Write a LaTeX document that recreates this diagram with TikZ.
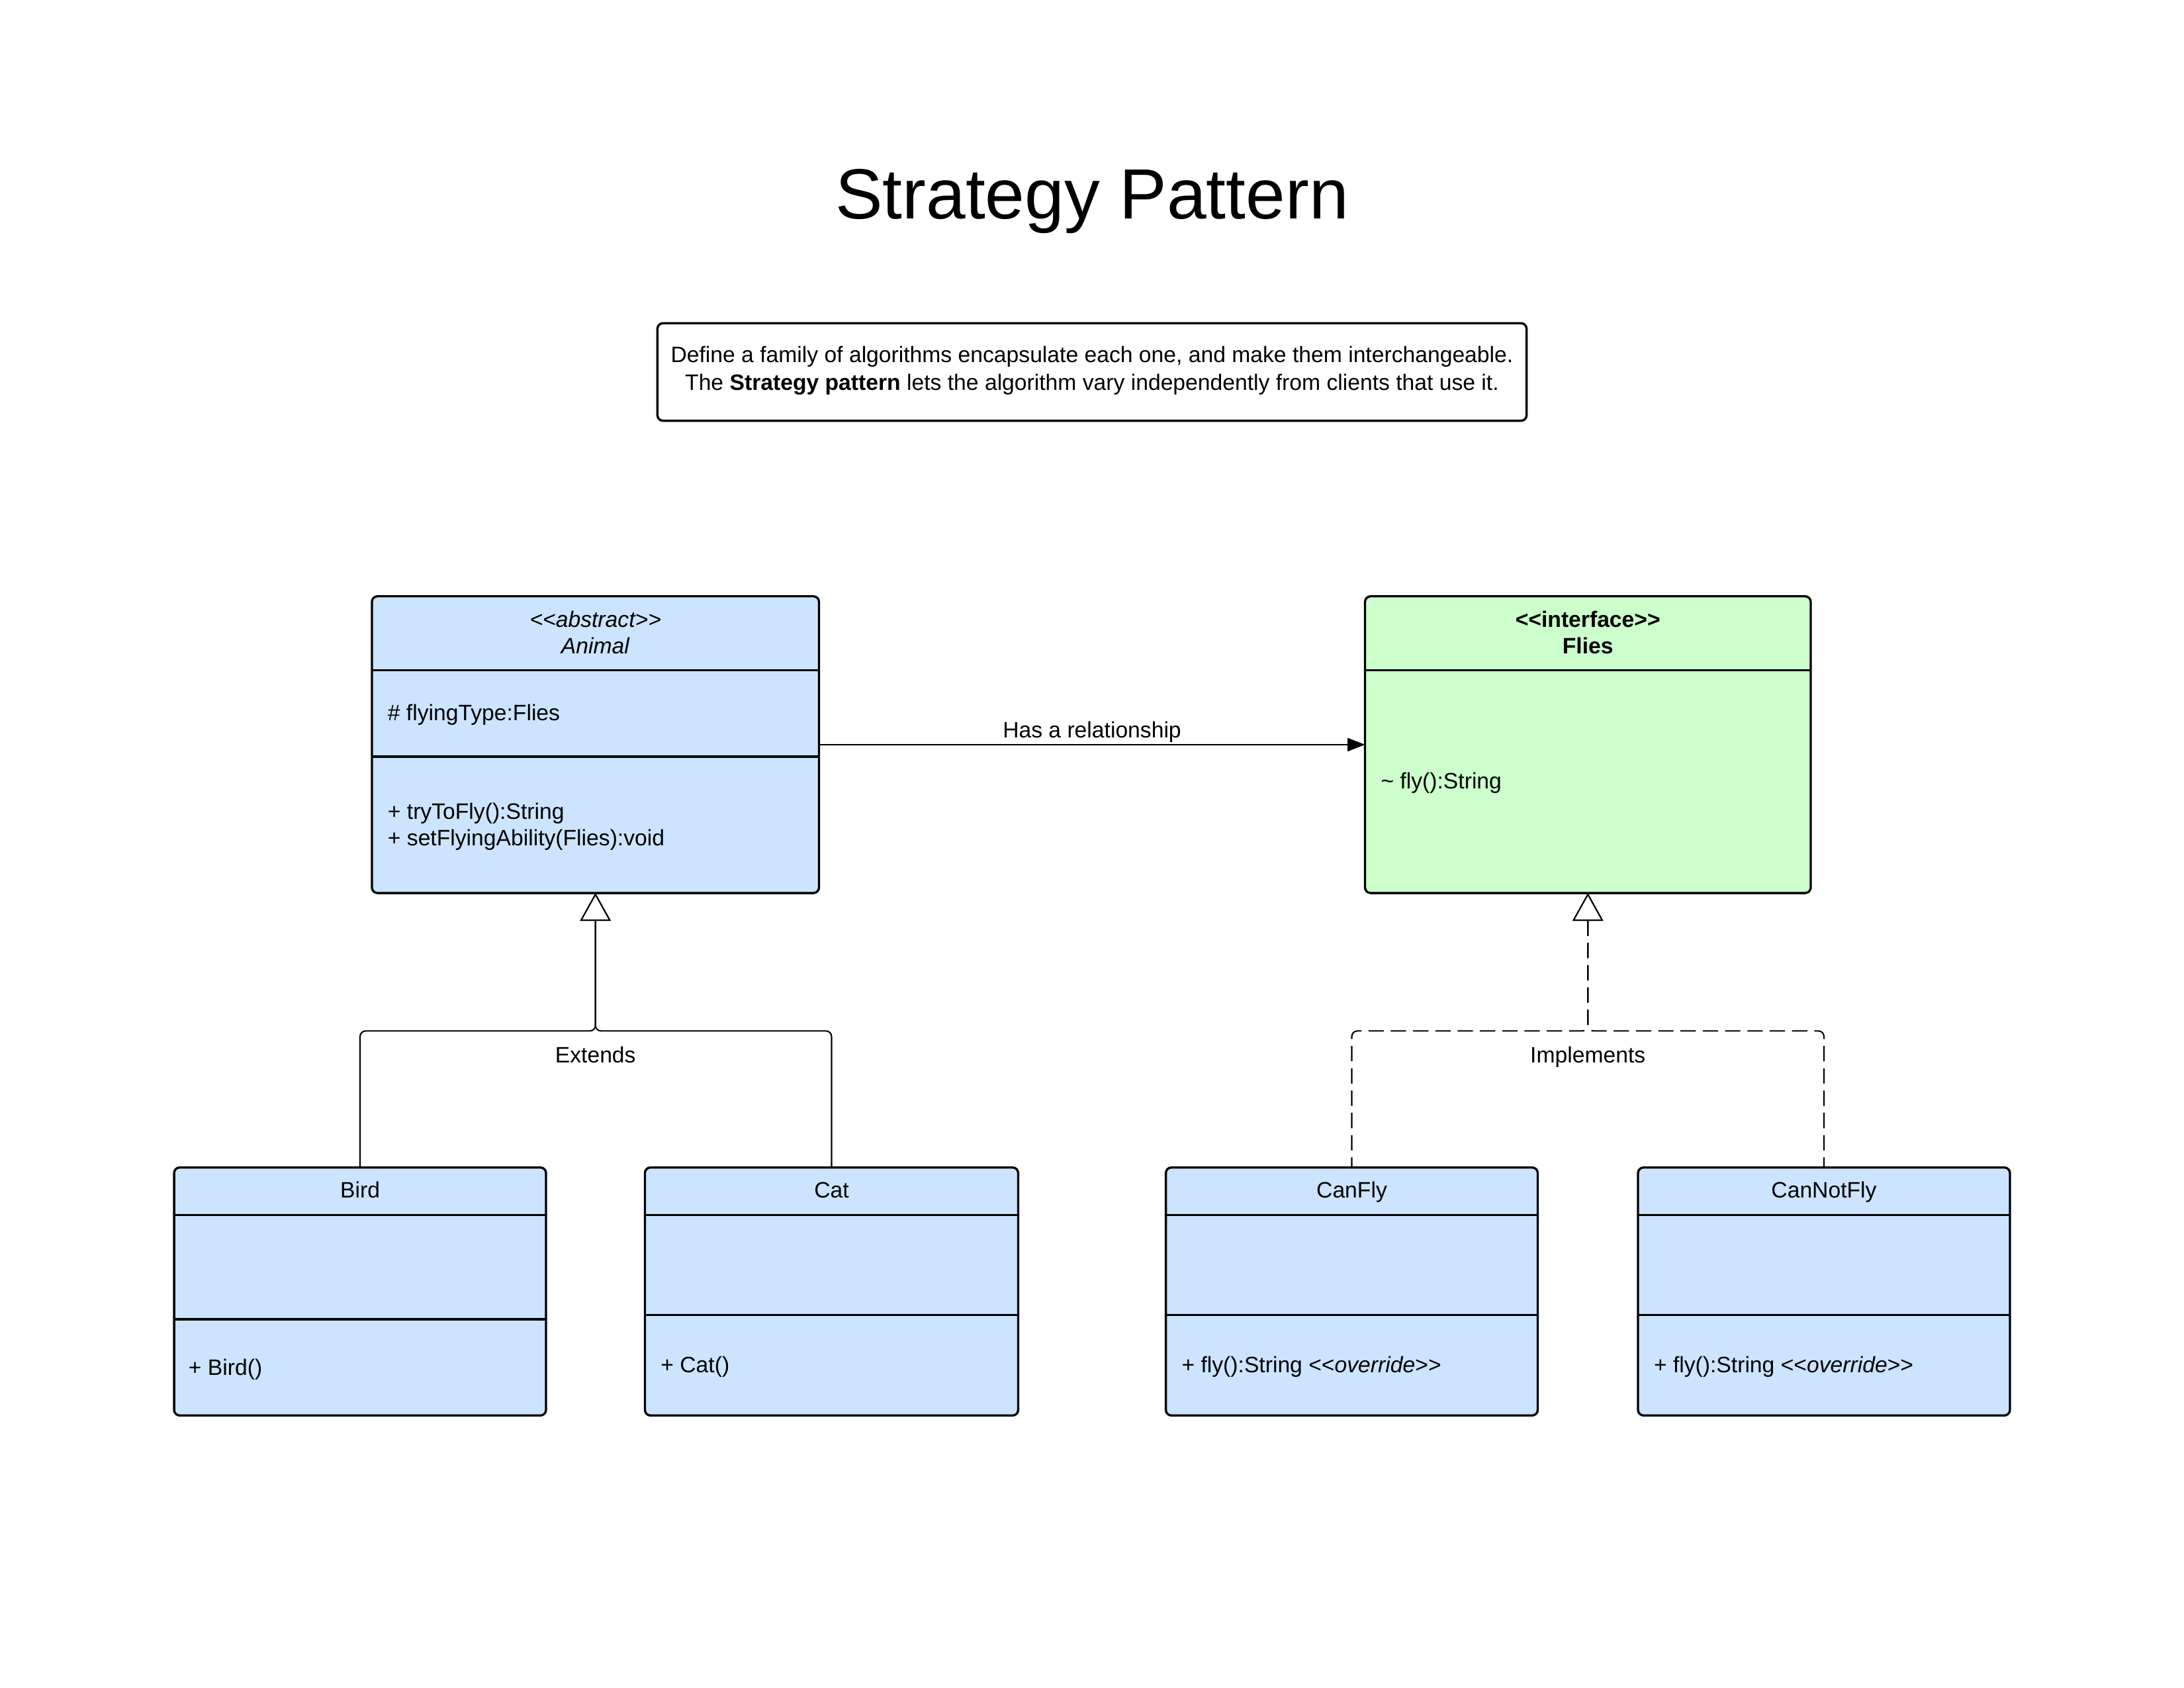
\documentclass[tikz,border=0pt]{standalone}
\usepackage{fontspec}
\setmainfont{Liberation Sans}
\usetikzlibrary{arrows.meta}
\definecolor{classblue}{RGB}{204,228,255}
\definecolor{ifacegreen}{RGB}{204,255,204}
\newcommand{\stereo}[1]{<\kern0pt<#1>\kern0pt>}

\begin{document}
\begin{tikzpicture}[x=0.5pt, y=-0.5pt,
    every node/.style = {font=\fontsize{8}{10}\selectfont},
    txt/.style = {inner sep=0pt, text height=7.5pt, text depth=0.5pt},
    cls/.style = {draw, line width=0.8pt, rounded corners=2pt, fill=classblue, anchor=north west, inner sep=0pt, outer sep=0pt},
    divider/.style = {line width=0.8pt},
    gen/.style = {line width=0.5pt, rounded corners=2pt, {Triangle[fill=white, length=10pt, width=11pt]}-},
    impl/.style = {gen, dash pattern=on 5.5pt off 2.5pt},
    assoc/.style = {line width=0.5pt, -{Triangle[length=6.3pt, width=4.8pt]}}]

    \useasboundingbox (0,0) rectangle (1568,1211.6);

    \node[font=\fontsize{25.5}{30}\selectfont, anchor=base] (title) at (784,157) {Strategy Pattern};

    \node[draw, line width=0.8pt, rounded corners=2pt, outer sep=0pt, minimum width=312pt, minimum height=35pt] (intent) at (784,267) {};
    \node[align=center, inner sep=0pt] (intentText) at (784,266) {Define a family of algorithms encapsulate each one, and make them interchangeable.\\
        The \textbf{Strategy pattern} lets the algorithm vary independently from clients that use it.};

    % abstract class
    \node[cls, minimum width=160.5pt, minimum height=106.5pt] (Animal) at (267,428) {};
    \draw[divider] (267,481) -- (588,481);
    \draw[divider] (267,543) -- (588,543);
    \node[txt] (animalStereo) at (427.5,443) {\textit{\stereo{abstract}}};
    \node[txt] (animalName) at (427.5,462) {\textit{Animal}};
    \node[txt, anchor=west] (animalField) at (278,510) {\# flyingType:Flies};
    \node[txt, anchor=west] (animalOpA) at (278,581) {+ tryToFly():String};
    \node[txt, anchor=west] (animalOpB) at (278,600) {+ setFlyingAbility(Flies):void};

    % interface
    \node[cls, fill=ifacegreen, minimum width=160pt, minimum height=106.5pt] (Flies) at (980,428) {};
    \draw[divider] (980,481) -- (1300,481);
    \node[txt] (fliesStereo) at (1140,443) {\textbf{\stereo{interface}}};
    \node[txt] (fliesName) at (1140,462) {\textbf{Flies}};
    \node[txt, anchor=west] (fliesOp) at (991,559) {\textasciitilde{} fly():String};

    % subclasses
    \node[cls, minimum width=133.5pt, minimum height=89pt] (Bird) at (125,838) {};
    \draw[divider] (125,872) -- (392,872);
    \draw[divider] (125,947) -- (392,947);
    \node[txt] (birdName) at (258.5,853) {Bird};
    \node[txt, anchor=west] (birdOp) at (135,980) {+ Bird()};

    \node[cls, minimum width=134pt, minimum height=89pt] (Cat) at (463,838) {};
    \draw[divider] (463,872) -- (731,872);
    \draw[divider] (463,944) -- (731,944);
    \node[txt] (catName) at (597,853) {Cat};
    \node[txt, anchor=west] (catOp) at (474,978) {+ Cat()};

    % behaviours
    \node[cls, minimum width=133.5pt, minimum height=89pt] (CanFly) at (837,838) {};
    \draw[divider] (837,872) -- (1104,872);
    \draw[divider] (837,944) -- (1104,944);
    \node[txt] (canFlyName) at (970.5,853) {CanFly};
    \node[txt, anchor=west] (canFlyOp) at (848,978) {+ fly():String \stereo{\textit{override}}};

    \node[cls, minimum width=133.5pt, minimum height=89pt] (CanNotFly) at (1176,838) {};
    \draw[divider] (1176,872) -- (1443,872);
    \draw[divider] (1176,944) -- (1443,944);
    \node[txt] (canNotFlyName) at (1309.5,853) {CanNotFly};
    \node[txt, anchor=west] (canNotFlyOp) at (1187,978) {+ fly():String \stereo{\textit{override}}};

    % relations
    \draw[assoc] (Animal.east) -- node[above, inner sep=0.6pt] (hasLabel) {Has a relationship} (Flies.west);

    \coordinate (extJoin) at (427.5,740);
    \draw[gen] (Animal.south) -- (extJoin) -| (Bird.north);
    \draw[gen] (Animal.south) -- (extJoin) -| (Cat.north);
    \node[txt] (extLabel) at (427.5,756) {Extends};

    \coordinate (implJoin) at (1140,740);
    \draw[impl] (Flies.south) -- (implJoin) -| (CanFly.north);
    \draw[impl] (Flies.south) -- (implJoin) -| (CanNotFly.north);
    \node[txt] (implLabel) at (1140,756) {Implements};

\end{tikzpicture}
\end{document}
